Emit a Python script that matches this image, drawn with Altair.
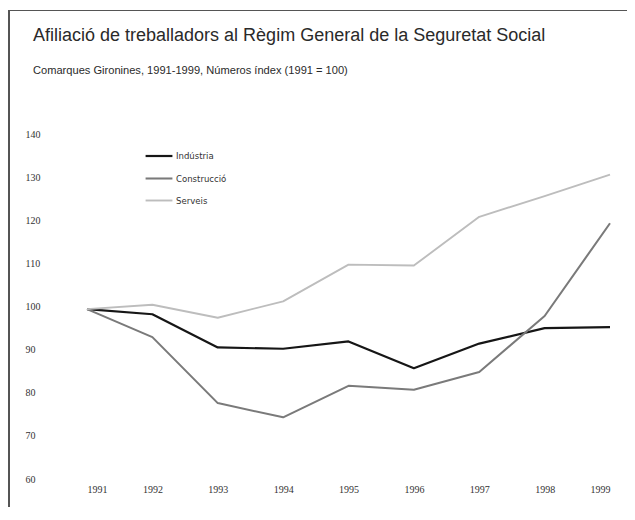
import altair as alt
import pandas as pd

years = [1991, 1992, 1993, 1994, 1995, 1996, 1997, 1998, 1999]
series_names = ["Indústria", "Construcció", "Serveis"]
industria = [99.4, 98.2, 90.5, 90.2, 91.9, 85.7, 91.4, 95.0, 95.2]
construccio = [99.4, 92.9, 77.6, 74.3, 81.6, 80.7, 84.8, 97.8, 119.3]
serveis = [99.4, 100.4, 97.4, 101.2, 109.7, 109.5, 120.8, 125.6, 130.6]
y_ticks = [60, 70, 80, 90, 100, 110, 120, 130, 140]
colors = ["#161616", "#7a7a7a", "#bdbdbd"]
widths = [2.2, 1.9, 1.3]

rows = []
for name, vals in zip(series_names, [industria, construccio, serveis]):
    for yr, v in zip(years, vals):
        rows.append({"any": yr, "valor": v, "sector": name})
df = pd.DataFrame(rows)

lines = alt.Chart(df).mark_line(strokeJoin="round").encode(
    x=alt.X("any:Q", scale=alt.Scale(domain=[1991, 1999], nice=False, zero=False),
            axis=alt.Axis(values=years, format="d", title=None, domain=False, ticks=False,
                          tickSize=0, grid=False, labelPadding=5,
                          labelFont="Liberation Serif", labelFontSize=10,
                          labelColor="#333")),
    y=alt.Y("valor:Q", scale=alt.Scale(domain=[60, 140], nice=False, zero=False),
            axis=alt.Axis(values=y_ticks, title=None, domain=False, ticks=False, tickSize=0,
                          grid=False, labelAlign="left", labelPadding=62,
                          labelFont="Liberation Serif", labelFontSize=10,
                          labelColor="#333")),
    color=alt.Color("sector:N", scale=alt.Scale(domain=series_names, range=colors),
                    legend=alt.Legend(title=None, orient="none", legendX=57, legendY=7,
                                      symbolType="stroke", symbolSize=720,
                                      symbolStrokeWidth=1.6, labelOffset=2,
                                      rowPadding=3, padding=0,
                                      labelFont="Liberation Sans Narrow, DejaVu Sans Condensed, Liberation Sans",
                                      labelFontSize=9.5, labelColor="#333")),
    strokeWidth=alt.StrokeWidth("sector:N", scale=alt.Scale(domain=series_names, range=widths),
                                legend=None),
)

frame_left = alt.Chart(df).mark_rule(color="#555", strokeWidth=1.5).encode(
    x=alt.value(-78.5), y=alt.value(-124), y2=alt.value(390)
)
frame_top = alt.Chart(df).mark_rule(color="#555", strokeWidth=1.2).encode(
    x=alt.value(-79), x2=alt.value(548), y=alt.value(-123.5)
)

chart = alt.layer(frame_left, frame_top, lines).properties(
    width=523,
    height=345,
    background="white",
    autosize=alt.AutoSizeParams(type="none"),
    padding={"left": 79, "top": 126, "right": 17, "bottom": 28},
    title=alt.TitleParams(
        text="Afiliació de treballadors al Règim General de la Seguretat Social",
        subtitle="Comarques Gironines, 1991-1999, Números índex (1991 = 100)",
        anchor="start", frame="group", dx=-54, offset=-67,
        font="Liberation Sans", fontSize=18, fontWeight="normal", color="#2a2a2a",
        subtitleFont="Liberation Sans", subtitleFontSize=11.1, subtitleColor="#2a2a2a",
        subtitlePadding=20,
    ),
).configure_view(stroke=None)

chart.save("out.html", embed_options={"renderer": "svg", "actions": False})
